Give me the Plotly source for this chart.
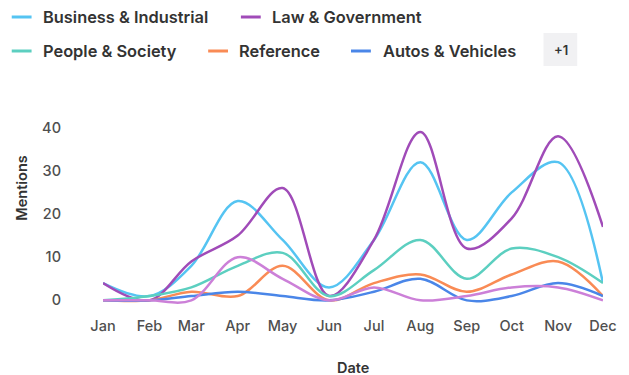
import plotly.graph_objects as go

# Monthly mention counts per category
months = ["2023-01-01", "2023-02-01", "2023-03-01", "2023-04-01", "2023-05-01", "2023-06-01",
          "2023-07-01", "2023-08-01", "2023-09-01", "2023-10-01", "2023-11-01", "2023-12-01"]

business_industrial = [4, 1, 8, 23, 14, 3, 14, 32, 14, 25, 32, 4]
law_government = [4, 0, 9, 15, 26, 1, 14, 39, 12, 19, 38, 17]
people_society = [0, 1, 3, 8, 11, 1, 7, 14, 5, 12, 10, 4]
reference = [0, 0, 2, 1, 8, 0, 4, 6, 2, 6, 9, 1]
autos_vehicles = [0, 0, 1, 2, 1, 0, 2, 5, 0, 1, 4, 1]
other = [0, 0, 0, 10, 5, 0, 3, 0, 1, 3, 3, 0]

series_names = ["Business & Industrial", "Law & Government", "People & Society",
                "Reference", "Autos & Vehicles", "Other"]
series_values = [business_industrial, law_government, people_society,
                 reference, autos_vehicles, other]
series_colors = ["#55c4f2", "#a04bb8", "#5ccfc0", "#f98b55", "#4a86e8", "#cc80d8"]

y_ticks = [0, 10, 20, 30, 40]

W, H = 629, 375
ML, MR, MT, MB = 103, 22, 119, 66
PW, PH = W - ML - MR, H - MT - MB

TEXT_DARK = "#333333"
TEXT_MUTED = "#4f4f4f"


def px(x):
    return (x - ML) / PW


def py(y):
    return (H - MB - y) / PH


fig = go.Figure()
for name, vals, color in zip(series_names, series_values, series_colors):
    fig.add_trace(go.Scatter(
        x=months, y=vals, name=name, mode="lines",
        line=dict(color=color, width=2.5, shape="spline", smoothing=1.0),
        showlegend=False,
    ))

# Custom legend: two rows of short colored strokes with labels, plus an overflow chip
legend_items = [
    (0, 11, 40), (1, 242, 271),
    (2, 11, 40), (3, 209, 238), (4, 353, 383),
]
legend_rows = [17, 17, 51, 51, 51]
shapes = []
annotations = []
for (idx, lx, tx), ry in zip(legend_items, legend_rows):
    shapes.append(dict(type="line", xref="paper", yref="paper",
                       x0=px(lx), x1=px(lx + 20), y0=py(ry), y1=py(ry),
                       line=dict(color=series_colors[idx], width=3)))
    annotations.append(dict(xref="paper", yref="paper", x=px(tx), y=py(ry),
                            xanchor="left", yanchor="middle", showarrow=False,
                            text=series_names[idx],
                            font=dict(family="Inter", size=16.4, weight=600, color=TEXT_DARK)))

shapes.append(dict(type="rect", xref="paper", yref="paper",
                   x0=px(547), x1=px(581), y0=py(66), y1=py(33),
                   fillcolor="#f1f1f3", line=dict(width=0), layer="below"))
annotations.append(dict(xref="paper", yref="paper", x=px(565), y=py(50),
                        xanchor="center", yanchor="middle", showarrow=False, text="+1",
                        font=dict(family="Inter", size=13, weight=600, color=TEXT_DARK)))

# Axis titles
annotations.append(dict(xref="paper", yref="paper", x=px(20), y=py(188),
                        xanchor="center", yanchor="middle", showarrow=False, text="Mentions",
                        textangle=-90,
                        font=dict(family="Inter", size=14.5, weight=600, color=TEXT_DARK)))
annotations.append(dict(xref="paper", yref="paper", x=px(355), y=py(367),
                        xanchor="center", yanchor="middle", showarrow=False, text="Date",
                        font=dict(family="Inter", size=14.5, weight=600, color=TEXT_DARK)))

tick_font = dict(family="Inter", size=14.5, weight=500, color=TEXT_MUTED)

fig.update_layout(
    width=W, height=H,
    margin=dict(l=ML, r=MR, t=MT, b=MB, pad=0),
    paper_bgcolor="white", plot_bgcolor="white",
    shapes=shapes, annotations=annotations,
    xaxis=dict(type="date", range=[months[0], months[-1]], dtick="M1", tickformat="%b",
               showgrid=False, zeroline=False, showline=False, ticks="",
               ticklabelstandoff=6, tickfont=tick_font),
    yaxis=dict(range=[-2, 42], tickvals=y_ticks, showgrid=False, zeroline=False,
               showline=False, ticks="", ticklabelstandoff=41, tickfont=tick_font),
    showlegend=False,
)

fig.write_html("out.html")
